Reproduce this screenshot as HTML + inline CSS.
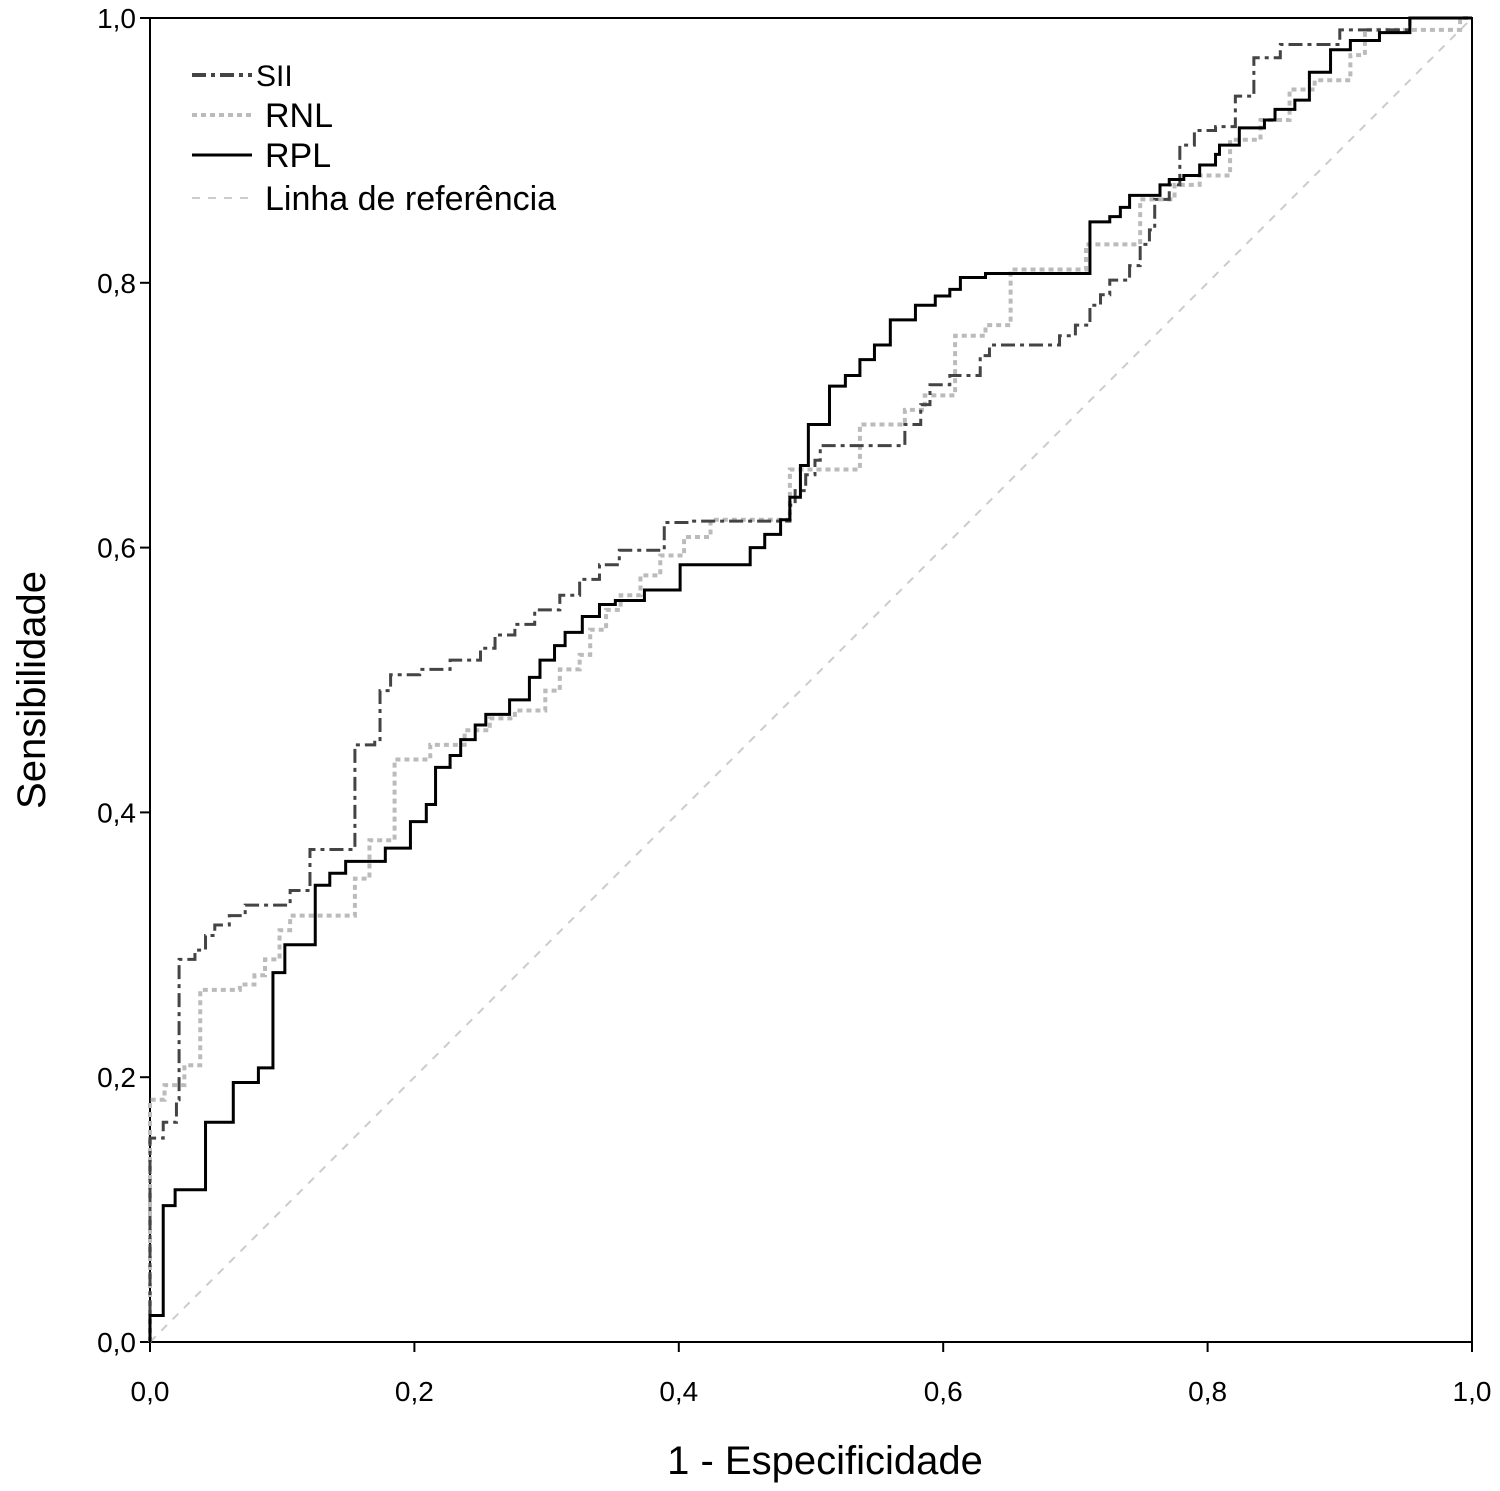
<!DOCTYPE html>
<html><head><meta charset="utf-8"><style>
html,body{margin:0;padding:0;background:#fff;}
svg{display:block;font-family:"Liberation Sans",Arial,sans-serif;}
</style></head><body>
<svg id="chart" width="1500" height="1491" viewBox="0 0 1500 1491">
<rect x="150" y="18" width="1322" height="1324" fill="none" stroke="#000" stroke-width="2"/>
<g id="ticks"></g>
<g id="series"></g>
<text x="825" y="1474" font-size="40" text-anchor="middle">1 - Especificidade</text>
<text x="0" y="0" font-size="40" text-anchor="middle" transform="translate(45,690) rotate(-90)">Sensibilidade</text>
<g>
 <g><line x1="192" y1="75" x2="252" y2="75" stroke="#444" stroke-width="4" stroke-dasharray="14,5,4,5"/><text x="256" y="86" font-size="30">SII</text></g>
 <g><line x1="192" y1="115" x2="252" y2="115" stroke="#bbb" stroke-width="4" stroke-dasharray="5,4"/><text x="265" y="127" font-size="34">RNL</text></g>
 <g><line x1="192" y1="155" x2="252" y2="155" stroke="#000" stroke-width="3"/><text x="265" y="167" font-size="34">RPL</text></g>
 <g><line x1="192" y1="198" x2="252" y2="198" stroke="#ccc" stroke-width="2" stroke-dasharray="8,8"/><text x="265" y="210" font-size="34">Linha de referência</text></g>
</g>
</svg>
<script>
const tickValues=[0,0.2,0.4,0.6,0.8,1.0];
const tickLabels=["0,0","0,2","0,4","0,6","0,8","1,0"];
const rplX=[0,0.010,0.019,0.042,0.063,0.082,0.093,0.102,0.125,0.136,0.148,0.178,0.197,0.209,0.216,0.227,0.235,0.246,0.254,0.272,0.287,0.295,0.306,0.314,0.327,0.340,0.352,0.374,0.401,0.454,0.465,0.477,0.484,0.492,0.498,0.514,0.526,0.537,0.548,0.560,0.579,0.594,0.605,0.613,0.632,0.711,0.726,0.734,0.741,0.764,0.771,0.782,0.794,0.806,0.809,0.824,0.843,0.851,0.866,0.877,0.893,0.908,0.930,0.953,1];
const rplY=[0.02,0.103,0.115,0.166,0.196,0.207,0.279,0.300,0.345,0.354,0.363,0.373,0.393,0.406,0.434,0.443,0.455,0.466,0.474,0.485,0.502,0.515,0.526,0.536,0.548,0.557,0.560,0.568,0.587,0.600,0.610,0.621,0.638,0.662,0.693,0.722,0.730,0.742,0.753,0.772,0.783,0.790,0.795,0.804,0.807,0.846,0.850,0.857,0.866,0.874,0.878,0.881,0.889,0.897,0.904,0.917,0.923,0.931,0.938,0.959,0.976,0.983,0.989,1,1];
const siiX=[0,0.010,0.020,0.022,0.034,0.042,0.049,0.060,0.072,0.106,0.121,0.155,0.170,0.174,0.182,0.204,0.227,0.250,0.261,0.276,0.291,0.310,0.325,0.340,0.355,0.389,0.409,0.484,0.488,0.496,0.503,0.507,0.571,0.583,0.590,0.605,0.628,0.635,0.688,0.700,0.711,0.719,0.726,0.741,0.749,0.756,0.760,0.771,0.779,0.790,0.806,0.821,0.835,0.855,0.878,0.900,0.953,1];
const siiY=[0.154,0.166,0.183,0.289,0.296,0.307,0.315,0.322,0.330,0.341,0.372,0.451,0.455,0.492,0.504,0.508,0.515,0.524,0.534,0.542,0.553,0.564,0.576,0.587,0.598,0.619,0.620,0.632,0.643,0.655,0.666,0.677,0.693,0.708,0.723,0.730,0.745,0.753,0.760,0.768,0.783,0.791,0.802,0.813,0.829,0.840,0.863,0.874,0.904,0.915,0.918,0.941,0.970,0.980,0.980,0.991,1,1];
const rnlX=[0,0.011,0.026,0.038,0.068,0.079,0.087,0.098,0.106,0.155,0.166,0.185,0.212,0.238,0.257,0.276,0.299,0.310,0.325,0.333,0.345,0.356,0.371,0.386,0.404,0.424,0.466,0.484,0.537,0.571,0.586,0.609,0.632,0.651,0.708,0.749,0.775,0.794,0.817,0.840,0.862,0.881,0.908,0.919,0.960,0.991,1];
const rnlY=[0.183,0.194,0.209,0.266,0.270,0.277,0.289,0.311,0.322,0.350,0.379,0.440,0.451,0.462,0.471,0.477,0.492,0.508,0.519,0.538,0.553,0.564,0.579,0.594,0.608,0.621,0.621,0.659,0.693,0.704,0.715,0.760,0.768,0.810,0.829,0.863,0.874,0.881,0.908,0.923,0.946,0.953,0.972,0.991,0.991,1,1];
const X=v=>150+v*1322, Y=v=>1342-v*1324;
const NS="http://www.w3.org/2000/svg";
const tg=document.getElementById('ticks'), sg=document.getElementById('series');
tickValues.forEach((t,i)=>{
  let l=document.createElementNS(NS,'line');
  l.setAttribute('x1',X(t));l.setAttribute('x2',X(t));l.setAttribute('y1',1342);l.setAttribute('y2',1352);l.setAttribute('stroke','#000');l.setAttribute('stroke-width',2);
  
  
  tg.appendChild(l);
  let tx=document.createElementNS(NS,'text');
  tx.setAttribute('x',X(t));tx.setAttribute('y',1401);tx.setAttribute('font-size','28');tx.setAttribute('text-anchor','middle');tx.textContent=tickLabels[i];
  
  
  tg.appendChild(tx);
  let l2=document.createElementNS(NS,'line');
  l2.setAttribute('x1',140);l2.setAttribute('x2',150);l2.setAttribute('y1',Y(t));l2.setAttribute('y2',Y(t));l2.setAttribute('stroke','#000');l2.setAttribute('stroke-width',2);
  
  
  tg.appendChild(l2);
  let ty=document.createElementNS(NS,'text');
  ty.setAttribute('x',136);ty.setAttribute('y',Y(t)+10);ty.setAttribute('font-size','28');ty.setAttribute('text-anchor','end');ty.textContent=tickLabels[i];
  
  
  tg.appendChild(ty);
});
function stepPath(xs,ys){let d='M'+X(0)+','+Y(0);for(let i=0;i<xs.length;i++){d+=' H'+X(xs[i])+' V'+Y(ys[i]);}return d;}
const ref=document.createElementNS(NS,'line');
ref.setAttribute('x1',X(0));ref.setAttribute('y1',Y(0));ref.setAttribute('x2',X(1));ref.setAttribute('y2',Y(1));
ref.setAttribute('stroke','#ccc');ref.setAttribute('stroke-width',2);ref.setAttribute('stroke-dasharray','8,8');


sg.appendChild(ref);
const rnl=document.createElementNS(NS,'path');
rnl.setAttribute('d',stepPath(rnlX,rnlY));rnl.setAttribute('fill','none');rnl.setAttribute('stroke','#bbb');rnl.setAttribute('stroke-width',4);rnl.setAttribute('stroke-dasharray','5,4');


sg.appendChild(rnl);
const sii=document.createElementNS(NS,'path');
sii.setAttribute('d',stepPath(siiX,siiY));sii.setAttribute('fill','none');sii.setAttribute('stroke','#444');sii.setAttribute('stroke-width',3);sii.setAttribute('stroke-dasharray','14,5,4,5');


sg.appendChild(sii);
const rpl=document.createElementNS(NS,'path');
rpl.setAttribute('d',stepPath(rplX,rplY));rpl.setAttribute('fill','none');rpl.setAttribute('stroke','#000');rpl.setAttribute('stroke-width',3);


sg.appendChild(rpl);
</script>
</body></html>
